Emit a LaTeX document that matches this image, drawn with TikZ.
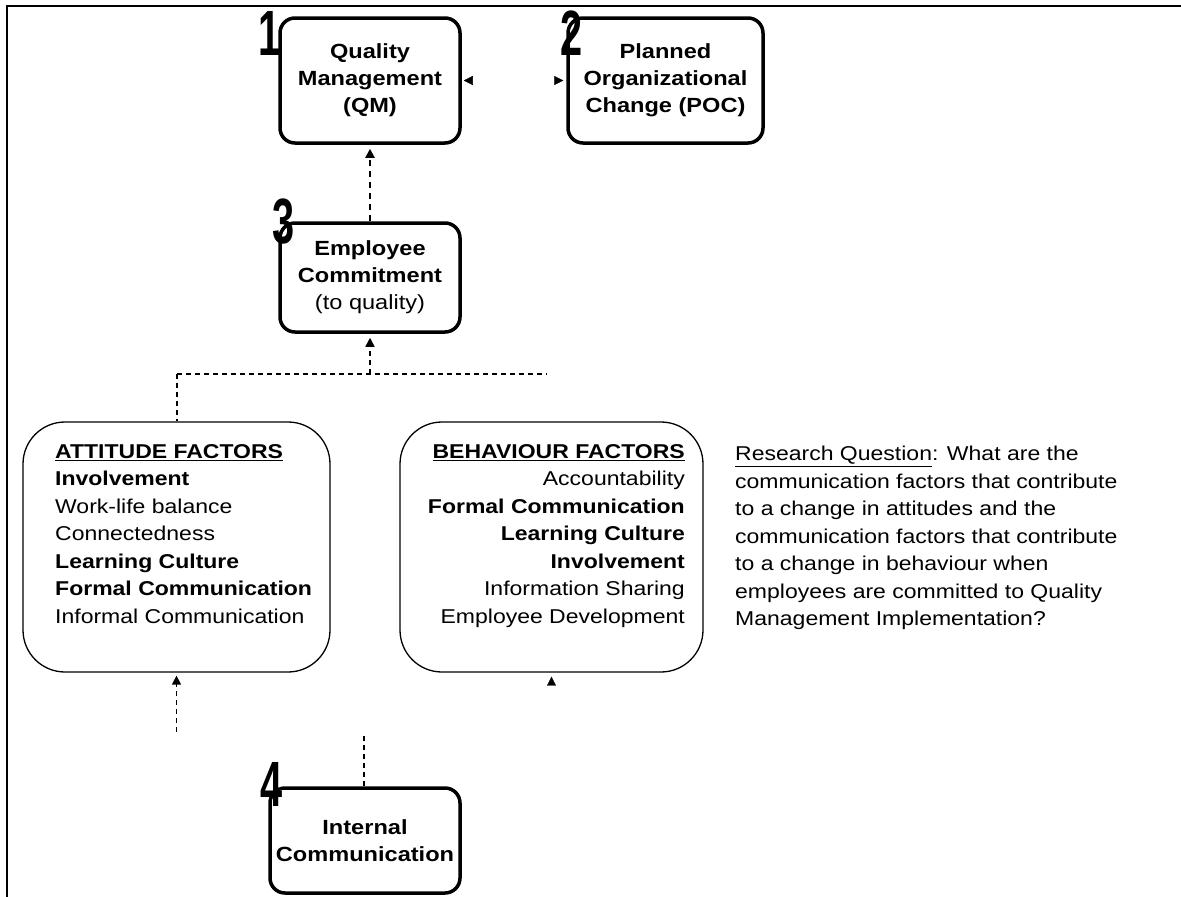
\documentclass[tikz,border=0pt]{standalone}
\usepackage{fontspec}
\setmainfont{Liberation Sans}[FakeStretch=1.15]
\newfontfamily\numfont{Liberation Sans}[FakeStretch=0.62]
\usetikzlibrary{arrows.meta}
\begin{document}
\begin{tikzpicture}[x=1pt,y=-1pt,
  numstyle/.style={font=\numfont\bfseries\fontsize{64}{64}\selectfont, inner sep=0pt, anchor=base east},
  mainbox/.style={draw, line width=3.5pt, rounded corners=15pt, align=center, inner sep=0pt, font=\bfseries\fontsize{20.5}{27}\selectfont},
  factorbox/.style={draw, line width=1.3pt, rounded corners=42pt, inner sep=0pt},
  ftext/.style={inner sep=0pt, font=\fontsize{20}{27.5}\selectfont},
  dashline/.style={line width=1.5pt, dash pattern=on 5pt off 4pt},
  upline/.style={line width=2pt, dash pattern=on 6pt off 5pt},
  tipend/.style={-{Triangle[length=9pt,width=9pt]}},
  tipboth/.style={{Triangle[length=9pt,width=9pt]}-{Triangle[length=9pt,width=9pt]}},
  frameline/.style={line width=2.5pt}]
\useasboundingbox (0,0) rectangle (1181,897);
\draw[frameline] (1181,6) -- (7,6) -- (7,897);

\node[mainbox, minimum width=180pt, minimum height=125pt] (qm) at (370,80.5) {Quality\\Management\\(QM)};
\node[mainbox, minimum width=195pt, minimum height=125pt] (poc) at (665.5,80.5) {Planned\\Organizational\\Change (POC)};
\node[mainbox, minimum width=180pt, minimum height=109pt] (emp) at (370,277.5) {Employee\\Commitment\\{\mdseries(to quality)}};
\node[mainbox, minimum width=190pt, minimum height=105pt] (intc) at (365,840.5) {Internal\\Communication};

\node[numstyle] (n1) at (281,55) {1};
\node[numstyle] (n2) at (583,55) {2};
\node[numstyle] (n3) at (295,243) {3};
\node[numstyle] (n4) at (283,806) {4};

\node[factorbox, minimum width=307pt, minimum height=250pt] (att) at (176.5,547) {};
\node[factorbox, minimum width=303pt, minimum height=250pt] (beh) at (551.5,547) {};

\node[ftext, anchor=north west, align=left] (atttext) at (55,444) {\textbf{\underline{ATTITUDE FACTORS}}\\\textbf{Involvement}\\Work-life balance\\Connectedness\\\textbf{Learning Culture}\\\textbf{Formal Communication}\\Informal Communication};
\node[ftext, anchor=north east, align=right] (behtext) at (685,444) {\textbf{\underline{BEHAVIOUR FACTORS}}\\Accountability\\\textbf{Formal Communication}\\\textbf{Learning Culture}\\\textbf{Involvement}\\Information Sharing\\Employee Development};
\node[ftext, anchor=north west, align=left] (rq) at (735,446) {\underline{Research Question}: What are the\\communication factors that contribute\\to a change in attitudes and the\\communication factors that contribute\\to a change in behaviour when\\employees are committed to Quality\\Management Implementation?};

\coordinate (hl) at (177,374);
\coordinate (hr) at (547,374);
\draw[dashline] (hl) -- (hr);
\draw[dashline] (hl) -- (hl |- att.north);
\draw[dashline, tipend, shorten >=4pt] (hl -| emp.south) -- (emp.south);
\draw[upline, tipend, shorten >=4pt] (emp.north) -- (emp.north |- qm.south);
\draw[tipboth, dash pattern=on 0pt off 300pt, shorten <=2pt, shorten >=3pt] (qm.east) -- (poc.west);

\coordinate (asrc) at (176.5,732);
\draw[dashline, tipend, shorten >=3pt] (asrc) -- (asrc |- att.south);
\coordinate (bsrc) at (551.5,692);
\draw[tipend, dash pattern=on 0pt off 100pt, shorten >=4pt] (bsrc) -- (bsrc |- beh.south);
\coordinate (isrc) at (364,735);
\draw[dashline] (intc.north -| isrc) -- (isrc);
\end{tikzpicture}
\end{document}
